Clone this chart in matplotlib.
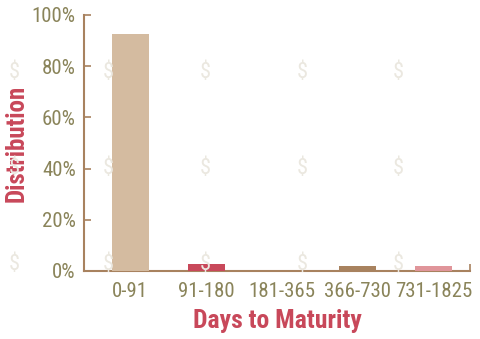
import numpy as np
import matplotlib
matplotlib.use("Agg")
import matplotlib.pyplot as plt

# maturity buckets and share of holdings (%)
buckets = ["0-91", "91-180", "181-365", "366-730", "731-1825"]
share = [92.6, 2.7, 0.0, 2.0, 2.0]
bar_colors = ["#d4bba0", "#c8485a", "#d4bba0", "#a8825f", "#e0959a"]
y_ticks = [0, 20, 40, 60, 80, 100]

AXIS = "#a8825f"
TICK = "#8a845a"
LABEL = "#c8485a"
FONT = ["Roboto Condensed", "Archivo Narrow", "DejaVu Sans"]

plt.rcParams["font.family"] = FONT

fig = plt.figure(figsize=(4.81, 3.39), dpi=100)
ax = fig.add_axes([84 / 481, 1 - 271 / 339, 386 / 481, 256 / 339])

# faint dollar-sign watermark behind the plot
for fy in (72, 168, 265):
    for fx in (14, 108, 205, 302, 398):
        fig.text(fx / 481, 1 - fy / 339, "$", color="#ebe8e0", fontsize=16,
                 ha="center", va="center", zorder=0)
ax.set_facecolor("none")

x = np.arange(len(buckets))
ax.bar(x, share, width=0.49, color=bar_colors, zorder=3)

ax.set_xlim(-0.61, 4.48)
ax.set_ylim(0, 100)
ax.set_yticks(y_ticks)
ax.set_yticklabels([f"{v}%" for v in y_ticks])
ax.set_xticks(x)
ax.set_xticklabels(buckets)
ax.set_xticks([4.48], minor=True)

for s in ("top", "right"):
    ax.spines[s].set_visible(False)
for s in ("left", "bottom"):
    ax.spines[s].set_color(AXIS)
    ax.spines[s].set_linewidth(1.5)

ax.tick_params(axis="y", direction="in", length=5, width=1.2, color=AXIS,
               labelcolor=TICK, labelsize=15, pad=6)
ax.tick_params(axis="x", which="major", length=0, labelcolor=TICK,
               labelsize=15, pad=8)
ax.tick_params(axis="x", which="minor", direction="in", length=5, width=1.2,
               color=AXIS)

ax.set_ylabel("Distribution", color=LABEL, fontsize=18, fontweight="bold",
              labelpad=2)
ax.set_xlabel("Days to Maturity", color=LABEL, fontsize=18.5, fontweight="bold",
              labelpad=6)

fig.savefig("out.png", dpi=100)
